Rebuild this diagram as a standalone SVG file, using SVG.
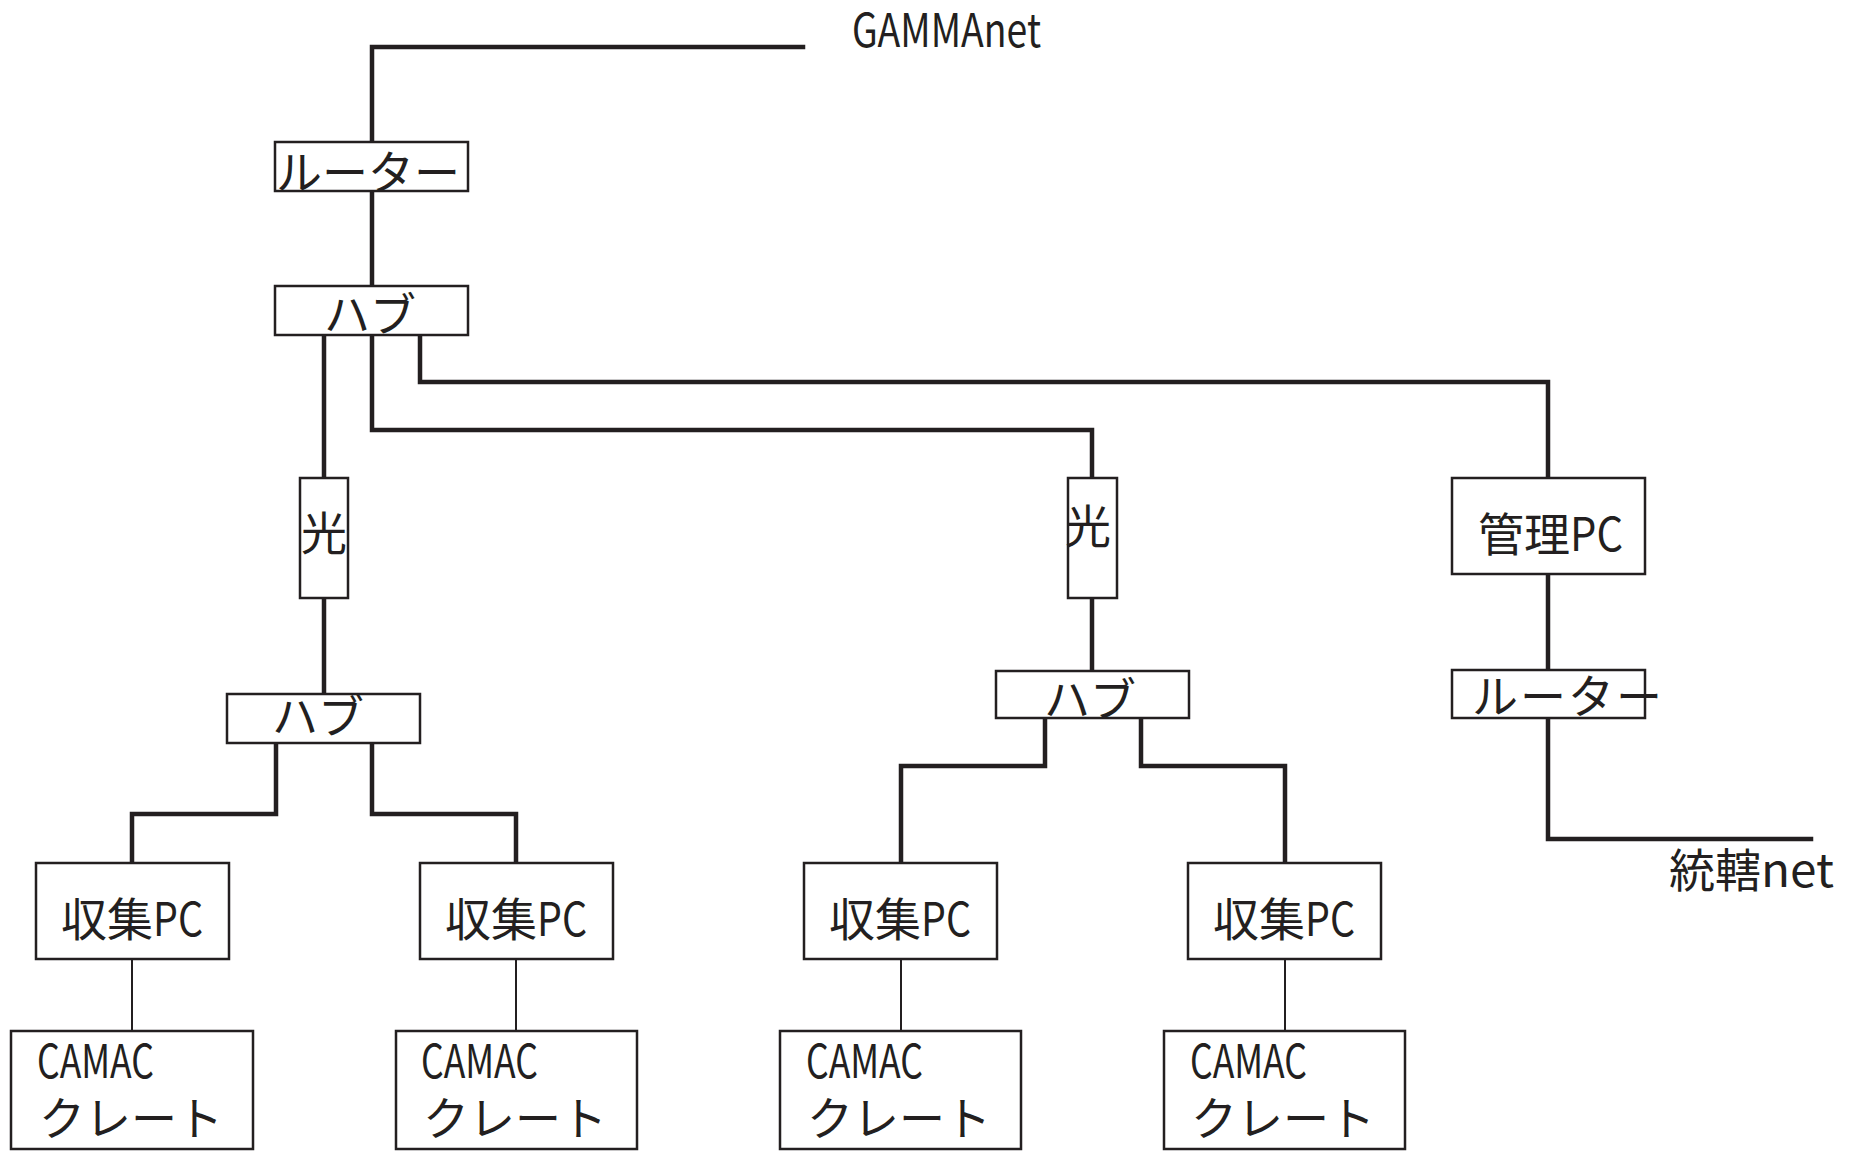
<svg xmlns="http://www.w3.org/2000/svg" width="1856" height="1151" viewBox="0 0 1856 1151">
<style>
.box{fill:#fff;stroke:#231f20;stroke-width:2.5}
.w{fill:none;stroke:#231f20;stroke-width:4.5;stroke-linejoin:miter;stroke-linecap:square}
.t{fill:none;stroke:#231f20;stroke-width:2}
text{font-family:"Noto Sans CJK JP","Noto Sans",sans-serif;fill:#231f20;font-size:46px}
</style>
<rect width="1856" height="1151" fill="#fff"/>
<g id="connectors">
<polyline class="w" points="803,47 372,47 372,142"/>
<line class="w" x1="372" y1="191" x2="372" y2="286"/>
<line class="w" x1="324" y1="335" x2="324" y2="478"/>
<polyline class="w" points="372,335 372,430 1092,430 1092,478"/>
<polyline class="w" points="420,335 420,382 1548,382 1548,478"/>
<line class="w" x1="324" y1="598" x2="324" y2="694"/>
<line class="w" x1="1092" y1="598" x2="1092" y2="671"/>
<polyline class="w" points="276,743 276,814 132,814 132,863"/>
<polyline class="w" points="372,743 372,814 516,814 516,863"/>
<polyline class="w" points="1045,718 1045,766 901,766 901,863"/>
<polyline class="w" points="1141,718 1141,766 1285,766 1285,863"/>
<line class="w" x1="1548" y1="574" x2="1548" y2="670"/>
<polyline class="w" points="1548,718 1548,839 1811,839"/>
<line class="t" x1="132" y1="959" x2="132" y2="1031"/>
<line class="t" x1="516" y1="959" x2="516" y2="1031"/>
<line class="t" x1="901" y1="959" x2="901" y2="1031"/>
<line class="t" x1="1285" y1="959" x2="1285" y2="1031"/>
</g>
<g id="gammanet"><text x="852" y="47" font-size="48" textLength="189" lengthAdjust="spacingAndGlyphs">GAMMAnet</text></g>
<g id="router1"><rect class="box" x="275" y="142" width="193" height="49"/><text x="276" y="189">ルーター</text></g>
<g id="hub1"><rect class="box" x="275" y="286" width="193" height="49"/><text x="324" y="331" font-size="45">ハブ</text></g>
<g id="opt1"><rect class="box" x="300" y="478" width="48" height="120"/><text x="301" y="550" font-size="44">光</text></g>
<g id="opt2"><rect class="box" x="1068" y="478" width="49" height="120"/><text x="1065" y="543" font-size="44">光</text></g>
<g id="hub2"><rect class="box" x="227" y="694" width="193" height="49"/><text x="272" y="733" font-size="45">ハブ</text></g>
<g id="hub3"><rect class="box" x="996" y="671" width="193" height="47"/><text x="1044" y="716" font-size="45">ハブ</text></g>
<g id="kanri"><rect class="box" x="1452" y="478" width="193" height="96"/><text x="1478" y="551">管理<tspan textLength="53" lengthAdjust="spacingAndGlyphs">PC</tspan></text></g>
<g id="router2"><rect class="box" x="1452" y="670" width="193" height="48"/><text x="1472" y="713" letter-spacing="2">ルーター</text></g>
<g id="toukatsu"><text x="1669" y="887" font-size="45">統轄<tspan textLength="73" lengthAdjust="spacingAndGlyphs">net</tspan></text></g>
<g id="pc1"><rect class="box" x="36" y="863" width="193" height="96"/><text x="61" y="936">収集<tspan textLength="50" lengthAdjust="spacingAndGlyphs">PC</tspan></text></g>
<g id="pc2"><rect class="box" x="420" y="863" width="193" height="96"/><text x="445" y="936">収集<tspan textLength="50" lengthAdjust="spacingAndGlyphs">PC</tspan></text></g>
<g id="pc3"><rect class="box" x="804" y="863" width="193" height="96"/><text x="829" y="936">収集<tspan textLength="50" lengthAdjust="spacingAndGlyphs">PC</tspan></text></g>
<g id="pc4"><rect class="box" x="1188" y="863" width="193" height="96"/><text x="1213" y="936">収集<tspan textLength="50" lengthAdjust="spacingAndGlyphs">PC</tspan></text></g>
<g id="camac1"><rect class="box" x="11" y="1031" width="242" height="118"/><text x="37" y="1078" textLength="117" lengthAdjust="spacingAndGlyphs">CAMAC</text><text x="39" y="1135" font-size="45">クレート</text></g>
<g id="camac2"><rect class="box" x="396" y="1031" width="241" height="118"/><text x="421" y="1078" textLength="117" lengthAdjust="spacingAndGlyphs">CAMAC</text><text x="423" y="1135" font-size="45">クレート</text></g>
<g id="camac3"><rect class="box" x="780" y="1031" width="241" height="118"/><text x="806" y="1078" textLength="117" lengthAdjust="spacingAndGlyphs">CAMAC</text><text x="807" y="1135" font-size="45">クレート</text></g>
<g id="camac4"><rect class="box" x="1164" y="1031" width="241" height="118"/><text x="1190" y="1078" textLength="117" lengthAdjust="spacingAndGlyphs">CAMAC</text><text x="1191" y="1135" font-size="45">クレート</text></g>
</svg>
